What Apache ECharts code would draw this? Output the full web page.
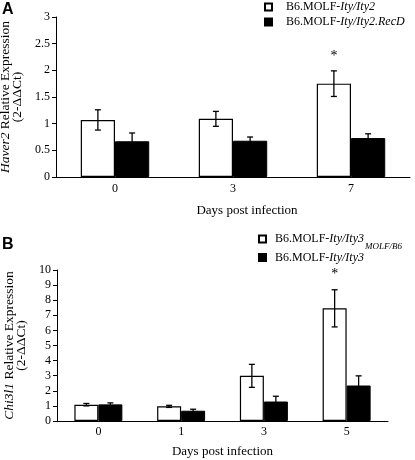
<!DOCTYPE html>
<html><head><meta charset="utf-8">
<script src="https://cdn.jsdelivr.net/npm/echarts@6/dist/echarts.min.js"></script>
<style>html,body{margin:0;padding:0;background:#fff}#c{width:415px;height:460px}</style>
</head><body><div id="c"></div>
<script>
// ---- data ----
const daysA = ['0', '3', '7'];
const seriesA1Name = 'B6.MOLF-Ity/Ity2';
const seriesA2Name = 'B6.MOLF-Ity/Ity2.RecD';
const a1Mean = [1.07, 1.09, 1.75];
const a1Err  = [0.19, 0.14, 0.24];
const a2Mean = [0.67, 0.68, 0.73];
const a2Err  = [0.155, 0.07, 0.08];
const a1Signif = [0, 0, 1];

const daysB = ['0', '1', '3', '5'];
const seriesB1Name = 'B6.MOLF-Ity/Ity3 MOLF/B6';
const seriesB2Name = 'B6.MOLF-Ity/Ity3';
const b1Mean = [1.08, 0.97, 2.99, 7.46];
const b1Err  = [0.08, 0.07, 0.76, 1.23];
const b2Mean = [1.10, 0.68, 1.29, 2.35];
const b2Err  = [0.10, 0.10, 0.35, 0.64];
const b1Signif = [0, 0, 0, 1];

const yTicksA = {min: 0, max: 3, interval: 0.5};
const yTicksB = {min: 0, max: 10, interval: 1};

// ---- chart ----
const SERIF = '"Liberation Serif", "Times New Roman", serif';
const GAP = 0.42;
function errRender(side) {
  return function (params, api) {
    const idx = api.value(0);
    const mean = api.value(1), err = api.value(2);
    const band = api.size([1, 0])[0];
    const bw = band * (1 - GAP) / 2;
    const cx = api.coord([idx, 0])[0] + side * bw / 2;
    const top = api.coord([idx, mean + err])[1];
    const bot = api.coord([idx, mean - err])[1];
    const cap = 3;
    const st = {stroke: '#000', lineWidth: 1.3};
    return {type: 'group', children: [
      {type: 'line', shape: {x1: cx, y1: top, x2: cx, y2: bot}, style: st},
      {type: 'line', shape: {x1: cx - cap, y1: top, x2: cx + cap, y2: top}, style: st},
      {type: 'line', shape: {x1: cx - cap, y1: bot, x2: cx + cap, y2: bot}, style: st}
    ]};
  };
}
function starRender(params, api) {
  const idx = api.value(0);
  if (!api.value(3)) return null;
  const band = api.size([1, 0])[0];
  const bw = band * (1 - GAP) / 2;
  const cx = api.coord([idx, 0])[0] - bw / 2;
  const top = api.coord([idx, api.value(1) + api.value(2)])[1];
  return {type: 'text', style: {text: '*', x: cx, y: top - 15, textAlign: 'center', textVerticalAlign: 'middle',
    font: '14px ' + SERIF, fill: '#000'}};
}
const richText = {
  n: {fontFamily: SERIF, fontSize: 12, color: '#000'},
  i: {fontFamily: SERIF, fontSize: 12, fontStyle: 'italic', color: '#000'},
  s: {fontFamily: SERIF, fontSize: 9, fontStyle: 'italic', color: '#000', padding: [16, 0, 0, 1]}
};
function legendFmt(name) {
  if (name === seriesA1Name) return '{n|B6.MOLF-}{i|Ity/Ity2}';
  if (name === seriesA2Name) return '{n|B6.MOLF-}{i|Ity/Ity2.RecD}';
  if (name === seriesB1Name) return '{n|B6.MOLF-}{i|Ity/Ity3}{s|MOLF/B6}';
  return '{n|B6.MOLF-}{i|Ity/Ity3}';
}
function yAxis(gi, ticks, nameRich) {
  return Object.assign({
    type: 'value', gridIndex: gi,
    axisLine: {show: true, lineStyle: {color: '#000', width: 1}},
    axisTick: {show: true, length: 4, lineStyle: {color: '#000'}},
    axisLabel: {color: '#000', fontFamily: SERIF, fontSize: 12, margin: 6},
    splitLine: {show: false},
    name: nameRich, nameLocation: 'middle', nameGap: 28, nameRotate: 90,
    nameTextStyle: {rich: {
      n: {fontFamily: SERIF, fontSize: 13.5, color: '#000', lineHeight: 12, align: 'center'},
      i: {fontFamily: SERIF, fontSize: 13.5, fontStyle: 'italic', color: '#000', lineHeight: 12}
    }}
  }, ticks);
}
function xAxis(gi, cats, nameGap, padLeft, labelMargin) {
  return {
    type: 'category', gridIndex: gi, data: cats,
    axisLine: {lineStyle: {color: '#000', width: 1}},
    axisTick: {length: 4, lineStyle: {color: '#000'}},
    axisLabel: {color: '#000', fontFamily: SERIF, fontSize: 12, margin: labelMargin},
    name: 'Days post infection', nameLocation: 'middle', nameGap: nameGap,
    nameTextStyle: {fontFamily: SERIF, fontSize: 13, color: '#000', padding: [0, 0, 0, padLeft]}
  };
}
function errData(m, e, s) { return m.map((v, i) => [i, v, e[i], s ? s[i] : 0]); }
const barStyleW = {color: '#fff', borderColor: '#000', borderWidth: 1.2};
const barStyleB = {color: '#000', borderColor: '#000', borderWidth: 1};

const chart = echarts.init(document.getElementById('c'));
chart.setOption({
  animation: false,
  backgroundColor: '#fff',
  graphic: [
    {type: 'text', left: 2, top: 2, style: {text: 'A', font: 'bold 16px "Liberation Sans", Arial, sans-serif', fill: '#000'}},
    {type: 'text', left: 2, top: 237, style: {text: 'B', font: 'bold 16px "Liberation Sans", Arial, sans-serif', fill: '#000'}}
  ],
  legend: [
    {orient: 'vertical', left: 264, top: 1, padding: 0, itemWidth: 7, itemHeight: 7, itemGap: 3, icon: 'rect',
      data: [seriesA1Name, seriesA2Name], formatter: legendFmt, textStyle: {rich: richText, padding: [0, 0, 0, 9]}},
    {orient: 'vertical', left: 258, top: 233, padding: 0, itemWidth: 7, itemHeight: 7, itemGap: 0, icon: 'rect',
      data: [seriesB1Name, seriesB2Name], formatter: legendFmt, textStyle: {rich: richText, padding: [0, 0, 0, 4]}}
  ],
  grid: [
    {left: 56, right: 5, top: 17, bottom: 283, containLabel: false, outerBoundsMode: 'none'},
    {left: 57, right: 27, top: 270, bottom: 39, containLabel: false, outerBoundsMode: 'none'}
  ],
  xAxis: [xAxis(0, daysA, 27, 28, 6), xAxis(1, daysB, 24, 0, 5)],
  yAxis: [
    yAxis(0, yTicksA, '{i|Haver2}{n| Relative Expression}\n{n|(2-ΔΔCt)}'),
    yAxis(1, yTicksB, '{i|Chi3l1}{n| Relative Expression}\n{n|(2-ΔΔCt)}')
  ],
  series: [
    {name: seriesA1Name, type: 'bar', xAxisIndex: 0, yAxisIndex: 0, data: a1Mean, barGap: '0%', barCategoryGap: (GAP * 100) + '%', itemStyle: barStyleW},
    {name: seriesA2Name, type: 'bar', xAxisIndex: 0, yAxisIndex: 0, data: a2Mean, barGap: '0%', barCategoryGap: (GAP * 100) + '%', itemStyle: barStyleB},
    {name: seriesB1Name, type: 'bar', xAxisIndex: 1, yAxisIndex: 1, data: b1Mean, barGap: '0%', barCategoryGap: (GAP * 100) + '%', itemStyle: barStyleW},
    {name: seriesB2Name, type: 'bar', xAxisIndex: 1, yAxisIndex: 1, data: b2Mean, barGap: '0%', barCategoryGap: (GAP * 100) + '%', itemStyle: barStyleB},
    {type: 'custom', xAxisIndex: 0, yAxisIndex: 0, renderItem: errRender(-1), data: errData(a1Mean, a1Err), z: 5},
    {type: 'custom', xAxisIndex: 0, yAxisIndex: 0, renderItem: errRender(1), data: errData(a2Mean, a2Err), z: 5},
    {type: 'custom', xAxisIndex: 1, yAxisIndex: 1, renderItem: errRender(-1), data: errData(b1Mean, b1Err), z: 5},
    {type: 'custom', xAxisIndex: 1, yAxisIndex: 1, renderItem: errRender(1), data: errData(b2Mean, b2Err), z: 5},
    {type: 'custom', xAxisIndex: 0, yAxisIndex: 0, renderItem: starRender, data: errData(a1Mean, a1Err, a1Signif), z: 5},
    {type: 'custom', xAxisIndex: 1, yAxisIndex: 1, renderItem: starRender, data: errData(b1Mean, b1Err, b1Signif), z: 5}
  ]
});
</script></body></html>
